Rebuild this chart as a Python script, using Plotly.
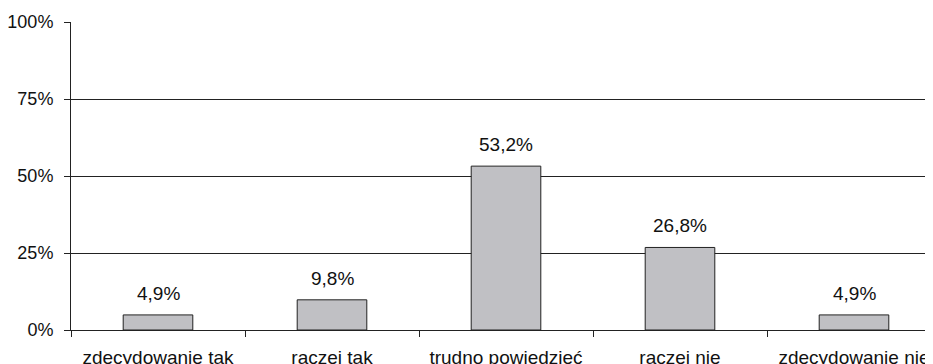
import plotly.graph_objects as go

categories = ["zdecydowanie tak", "raczej tak", "trudno powiedzieć", "raczej nie", "zdecydowanie nie"]
values = [4.9, 9.8, 53.2, 26.8, 4.9]
labels = ["4,9%", "9,8%", "53,2%", "26,8%", "4,9%"]
y_ticks = [0, 25, 50, 75, 100]
y_ticktext = ["0%", "25%", "50%", "75%", "100%"]

font = "Liberation Sans, Arial, sans-serif"

fig = go.Figure(go.Bar(
    x=categories, y=values, width=0.4,
    marker=dict(color="#C0C0C4", line=dict(color="#222222", width=1)),
    hoverinfo="skip"))

for c, v, t in zip(categories, values, labels):
    fig.add_annotation(x=c, y=v, text=t, showarrow=False, yanchor="bottom", yshift=9,
                       font=dict(family=font, size=19, color="#111111"))

# page body adds an 8px offset: size the figure so it ends at the window edge
fig.update_layout(
    width=925, height=356,
    margin=dict(l=63, r=0, t=14, b=34),
    paper_bgcolor="white", plot_bgcolor="white",
    showlegend=False,
    font=dict(family=font, size=19, color="#111111"))

# the last category runs past the right edge, as in the original
fig.update_xaxes(type="category", range=[-0.5, 4.454], tickson="boundaries",
                 ticks="outside", ticklen=6, tickcolor="#222222",
                 showline=True, linecolor="#222222", linewidth=1,
                 showgrid=False, automargin=False, ticklabelstandoff=10,
                 tickfont=dict(size=19))
fig.update_yaxes(range=[0, 100], tickmode="array", tickvals=y_ticks, ticktext=y_ticktext,
                 ticks="outside", ticklen=6, tickcolor="#222222",
                 showline=True, linecolor="#222222", linewidth=1,
                 showgrid=True, gridcolor="#222222", gridwidth=1,
                 zeroline=False, automargin=False, ticklabelstandoff=7,
                 tickfont=dict(size=18))

fig.write_html("out.html")
